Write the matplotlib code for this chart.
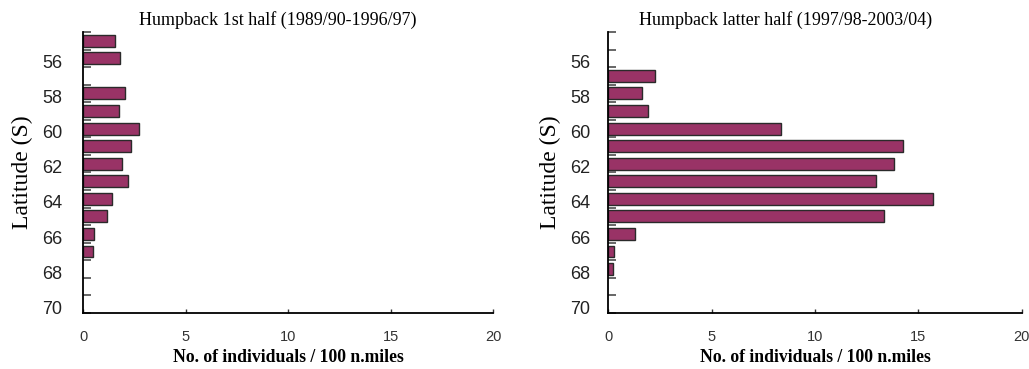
import matplotlib
matplotlib.use("Agg")
import matplotlib.pyplot as plt

# Latitude bands (southern edge, degrees S) and sighting rates
lat_first = [55, 56, 58, 59, 60, 61, 62, 63, 64, 65, 66, 67]
rate_first = [1.55, 1.79, 2.03, 1.74, 2.71, 2.32, 1.89, 2.18, 1.40, 1.16, 0.55, 0.50]

lat_latter = [57, 58, 59, 60, 61, 62, 63, 64, 65, 66, 67, 68]
rate_latter = [2.26, 1.65, 1.94, 8.35, 14.24, 13.81, 12.94, 15.69, 13.32, 1.29, 0.29, 0.24]

titles = ["Humpback 1st half (1989/90-1996/97)",
          "Humpback latter half (1997/98-2003/04)"]
lat_labels = [56, 58, 60, 62, 64, 66, 68, 70]
x_ticks = [0, 5, 10, 15, 20]

bar_color = "#993366"
serif = ["Liberation Serif", "DejaVu Serif"]
sans = ["Liberation Sans", "DejaVu Sans"]

fig = plt.figure(figsize=(10.29, 3.69), dpi=100)
ax_l = fig.add_axes([0.0807, 0.1518, 0.3984, 0.7615])
ax_r = fig.add_axes([0.5911, 0.1518, 0.4017, 0.7615])

panels = [(ax_l, lat_first, rate_first, titles[0], 0.0214, -0.024, 15),
          (ax_r, lat_latter, rate_latter, titles[1], 0.5345, -0.071, 13)]

for ax, lats, rates, title, ylab_x, title_shift, ypad in panels:
    centers = [b - 0.5 for b in lats]
    ax.barh(centers, rates, height=0.68, color=bar_color,
            edgecolor="#2a2a2a", linewidth=1.0)
    ax.set_xlim(0, 20)
    ax.set_ylim(70, 54)

    for s in ("top", "right"):
        ax.spines[s].set_visible(False)
    for s in ("left", "bottom"):
        ax.spines[s].set_linewidth(1.3)
        ax.spines[s].set_color("black")

    # band boundaries as short inside ticks
    ax.set_yticks(range(54, 71))
    ax.set_yticklabels([])
    ax.tick_params(axis="y", which="major", direction="in", length=6,
                   width=1.4, color="#666666")
    # latitude labels sit just above their band boundary
    ax.set_yticks([v - 0.32 for v in lat_labels], minor=True)
    ax.set_yticklabels([str(v) for v in lat_labels], minor=True,
                       fontfamily=sans, fontsize=13, color="#222222")
    ax.tick_params(axis="y", which="minor", length=0, pad=ypad)

    ax.set_xticks(x_ticks)
    ax.set_xticklabels([str(v) for v in x_ticks], fontfamily=sans,
                       fontsize=10.5, color="#333333")
    ax.tick_params(axis="x", direction="in", length=3, width=1.0,
                   color="#333333", pad=12)

    ax.set_xlabel("No. of individuals / 100 n.miles", fontfamily=serif,
                  fontsize=12.7, fontweight="bold", labelpad=4)
    ax.set_title(title, fontfamily=serif, fontsize=13, fontweight="normal",
                 x=0.5 + title_shift, pad=5)

    bb = ax.get_position()
    fig.text(ylab_x, bb.y0 + bb.height / 2, "Latitude (S)", rotation=90,
             ha="center", va="center", fontfamily=serif, fontsize=17)

fig.savefig("out.png", dpi=100)
